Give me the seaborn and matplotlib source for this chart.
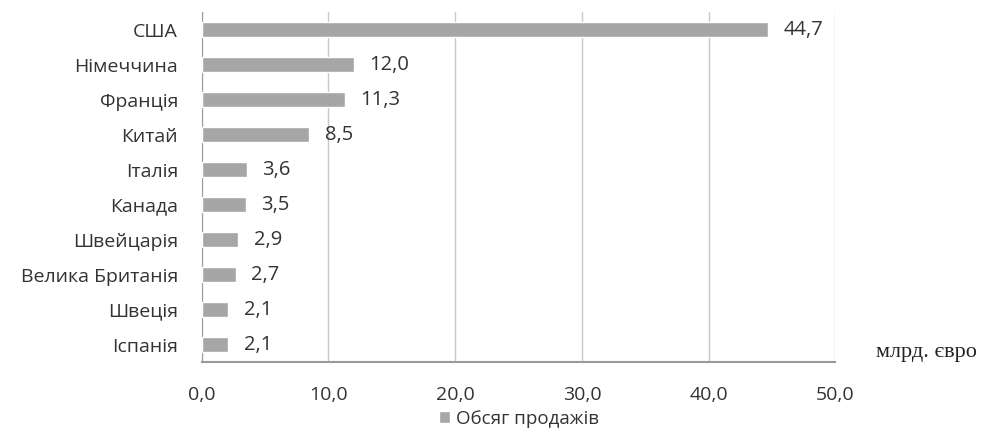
import matplotlib
matplotlib.use("Agg")
import matplotlib.pyplot as plt
import seaborn as sns
import numpy as np
import pandas as pd

countries = ["США", "Німеччина", "Франція", "Китай", "Італія", "Канада",
             "Швейцарія", "Велика Британія", "Швеція", "Іспанія"]
sales = [44.7, 12.0, 11.3, 8.5, 3.6, 3.5, 2.9, 2.7, 2.1, 2.1]
series_name = "Обсяг продажів"
x_ticks = [0, 10, 20, 30, 40, 50]

sns.set_style("white")
plt.rcParams["font.family"] = ["Open Sans", "DejaVu Sans"]

df = pd.DataFrame({"country": countries, "sales": sales})

fig = plt.figure(figsize=(9.84, 4.32), dpi=100)
ax = fig.add_axes([0.205, 0.162, 0.644, 0.81])

sns.barplot(data=df, y="country", x="sales", orient="h", color="#a6a6a6",
            saturation=1, width=0.42, ax=ax, label=series_name, zorder=3)

for i, v in enumerate(sales):
    ax.text(v + 1.2, i, f"{v:.1f}".replace(".", ","), va="center", ha="left",
            fontsize=14.5, color="#333333")

ax.set_xlim(0, 50)
ax.set_ylim(len(countries) - 0.5, -0.5)
ax.set_xticks(x_ticks)
ax.set_xticklabels([f"{t:.1f}".replace(".", ",") for t in x_ticks],
                   fontsize=14, color="#333333")
ax.tick_params(axis="x", length=7, color="#999999", pad=10)
ax.set_yticks(range(len(countries)))
ax.set_yticklabels(countries, fontsize=14, color="#333333")
ax.tick_params(axis="y", which="major", length=0, pad=17)
ax.set_yticks(np.arange(-0.5, len(countries), 1), minor=True)
ax.tick_params(axis="y", which="minor", length=6, color="#999999", direction="out")
ax.set_xlabel("")
ax.set_ylabel("")

ax.grid(axis="x", color="#c8c8c8", linewidth=1, zorder=0)
for s in ["top", "right"]:
    ax.spines[s].set_visible(False)
ax.spines["left"].set_color("#999999")
ax.spines["bottom"].set_color("#999999")
ax.spines["bottom"].set_linewidth(1.5)

fig.text(0.993, 0.183, "млрд. євро", ha="right", va="center", fontsize=16,
         family="Liberation Serif", color="#222222")

ax.legend(loc="center", bbox_to_anchor=(0.5, -0.163), frameon=False,
          fontsize=13.5, handlelength=0.6, handleheight=0.6, handletextpad=0.3,
          borderpad=0, labelcolor="#333333")

fig.savefig("out.png", dpi=100)
